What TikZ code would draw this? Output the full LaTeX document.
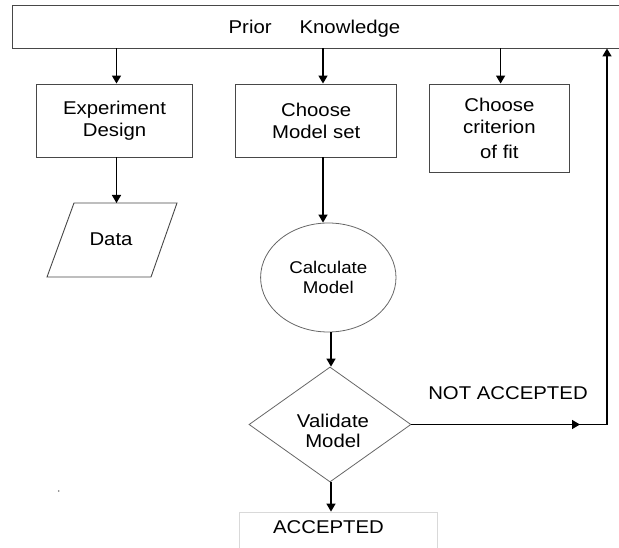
\documentclass[tikz,border=0pt]{standalone}
\usepackage{fontspec}
\setmainfont{Liberation Sans}[FakeStretch=1.1]
\usetikzlibrary{arrows.meta,shapes.geometric}
\begin{document}
\begin{tikzpicture}[x=1pt,y=-1pt,
  boxst/.style={draw=black!72,line width=0.9pt,rectangle,inner sep=0pt,align=center,
    font=\fontsize{18.5}{22}\selectfont},
  lbl/.style={inner sep=0pt,align=center,font=\fontsize{18.5}{22}\selectfont},
  arr/.style={line width=1.5pt,-{Triangle[length=8pt,width=9pt]}},
  plain/.style={line width=1.5pt}]
\useasboundingbox (0,0) rectangle (619,548);
% top box
\node[boxst,minimum width=620pt,minimum height=43pt] (prior) at (322,26.5) {};
\node[lbl] (priortext) at (314.5,28.5) {Prior\hspace{28pt}Knowledge};
% row of boxes
\node[boxst,minimum width=155.6pt,minimum height=73pt] (exp) at (114.5,120.5) {Experiment\\Design};
\node[boxst,minimum width=161pt,minimum height=73pt] (model) at (316.2,120.5) {Choose\\Model set};
\node[boxst,minimum width=140pt,minimum height=88pt] (crit) at (499.4,128) {Choose\\criterion\\[3pt]of fit};
% data parallelogram
\draw[draw=black!72,line width=0.9pt] (74,203) -- (177,203) -- (151,277) -- (47,277) -- cycle;
\node[lbl] (data) at (111,239) {Data};
\coordinate (datatop) at (116.5,203);
% ellipse
\node[draw=black!60,line width=0.8pt,ellipse,minimum width=135.4pt,minimum height=109pt,inner sep=0pt,
  align=center,font=\fontsize{17}{19.5}\selectfont] (calc) at (328.3,277.5) {Calculate\\Model};
% diamond
\node[draw=black!60,line width=0.8pt,diamond,minimum width=162pt,minimum height=115pt,inner sep=0pt] (valid) at (330,424.5) {};
\node[lbl,font=\fontsize{18.5}{20.5}\selectfont] (valtext) at (333,431) {Validate\\Model};
% accepted
\node[draw=black!15,line width=0.8pt,rectangle,minimum width=198pt,minimum height=60pt,inner sep=0pt] (accbox) at (338,542) {};
\node[lbl] (acc) at (328.5,527.5) {ACCEPTED};
\node[lbl] (notacc) at (508,393.5) {NOT ACCEPTED};
% stray dot
\fill[black!55] (58.7,491) circle (0.9pt);
% connectors
\draw[arr] (prior.south -| {116.5,0}) -- (exp.north -| {116.5,0});
\draw[arr] (prior.south -| {323,0}) -- (model.north -| {323,0});
\draw[arr] (prior.south -| {500.6,0}) -- (crit.north -| {500.6,0});
\draw[arr] (exp.south -| datatop) -- (datatop);
\draw[arr] (model.south -| {323,0}) -- (calc.north -| {323,0});
\draw[arr] (calc.south -| {331,0}) -- (valid.north -| {331,0});
\draw[arr] (valid.south -| {331,0}) -- (accbox.north -| {331,0});
\coordinate (mid) at (580,424.5);
\coordinate (corner) at (607,424.5);
\draw[plain] (valid.east) -- (corner);
\draw[arr] (valid.east) -- (mid);
\draw[arr] (corner) -- (corner |- prior.south);
\end{tikzpicture}
\end{document}
